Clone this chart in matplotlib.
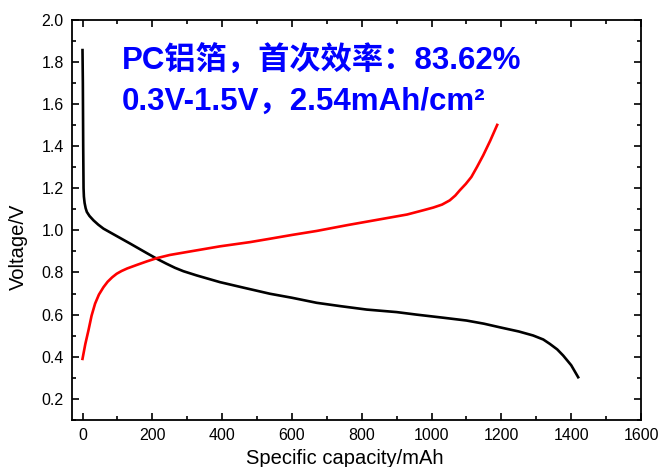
import numpy as np
import matplotlib.pyplot as plt
from matplotlib.ticker import MultipleLocator

# discharge curve (black)
dis_cap = [0, 1, 2, 3, 4, 6, 9, 12.5, 20, 31.6, 45, 60, 89, 136.5, 184, 213,
           240, 265, 289, 327, 394, 461, 537, 600, 671, 740, 814, 900, 957, 1030,
           1100, 1150, 1195, 1250, 1291, 1320, 1339, 1360, 1377, 1400, 1420]
dis_v = [1.855, 1.70, 1.40, 1.20, 1.16, 1.13, 1.105, 1.087, 1.068, 1.047,
         1.027, 1.008, 0.981, 0.937, 0.892, 0.865, 0.842, 0.822, 0.806, 0.786,
         0.754, 0.728, 0.699, 0.680, 0.656, 0.640, 0.624, 0.612, 0.600, 0.586,
         0.572, 0.557, 0.540, 0.520, 0.501, 0.482, 0.461, 0.435, 0.406, 0.360,
         0.303]

# charge curve (red)
chg_cap = [0, 8, 17, 26, 36, 47, 60, 72, 85, 98, 112, 128, 156, 185, 213, 250,
           299, 394, 480, 537, 600, 671, 760, 862, 930, 976, 1005, 1030, 1052,
           1068, 1081, 1098, 1114, 1130, 1148, 1168, 1188]
chg_v = [0.39, 0.46, 0.525, 0.595, 0.652, 0.695, 0.730, 0.756, 0.777, 0.794,
         0.807, 0.819, 0.836, 0.853, 0.868, 0.883, 0.897, 0.924, 0.944, 0.960,
         0.978, 0.997, 1.025, 1.055, 1.075, 1.095, 1.108, 1.122, 1.142, 1.165,
         1.19, 1.22, 1.253, 1.30, 1.356, 1.425, 1.50]

plt.rcParams['font.family'] = ['Liberation Sans', 'Noto Sans CJK SC']

fig = plt.figure(figsize=(6.59, 4.67), dpi=100)
ax = fig.add_axes([0.1093, 0.1006, 0.8634, 0.8576])

ax.plot(dis_cap, dis_v, color='black', lw=1.9)
ax.plot(chg_cap, chg_v, color='red', lw=1.9)

ax.set_xlim(-30, 1600)
ax.set_ylim(0.1, 2.0)
ax.xaxis.set_major_locator(MultipleLocator(200))
ax.xaxis.set_minor_locator(MultipleLocator(100))
ax.yaxis.set_major_locator(MultipleLocator(0.2))
ax.yaxis.set_minor_locator(MultipleLocator(0.1))
ax.tick_params(which='both', direction='in', top=True, right=True,
               labelsize=11.5, width=1.2)
ax.tick_params(which='major', length=5, pad=6)
ax.tick_params(which='minor', length=3)
for s in ax.spines.values():
    s.set_linewidth(1.3)

ax.set_xlabel('Specific capacity/mAh', fontsize=14.5)
ax.set_ylabel('Voltage/V', fontsize=14.5)
ax.xaxis.set_label_coords(0.48, -0.072)
ax.yaxis.set_label_coords(-0.077, 0.433)

ax.text(0.088, 0.874, 'PC铝箔，首次效率：83.62%', transform=ax.transAxes,
        color='#0000ff', fontsize=22.5, fontweight='bold', va='baseline')
ax.text(0.088, 0.774, '0.3V-1.5V，2.54mAh/cm²', transform=ax.transAxes,
        color='#0000ff', fontsize=22.5, fontweight='bold', va='baseline')

fig.savefig('out.png', dpi=100)
